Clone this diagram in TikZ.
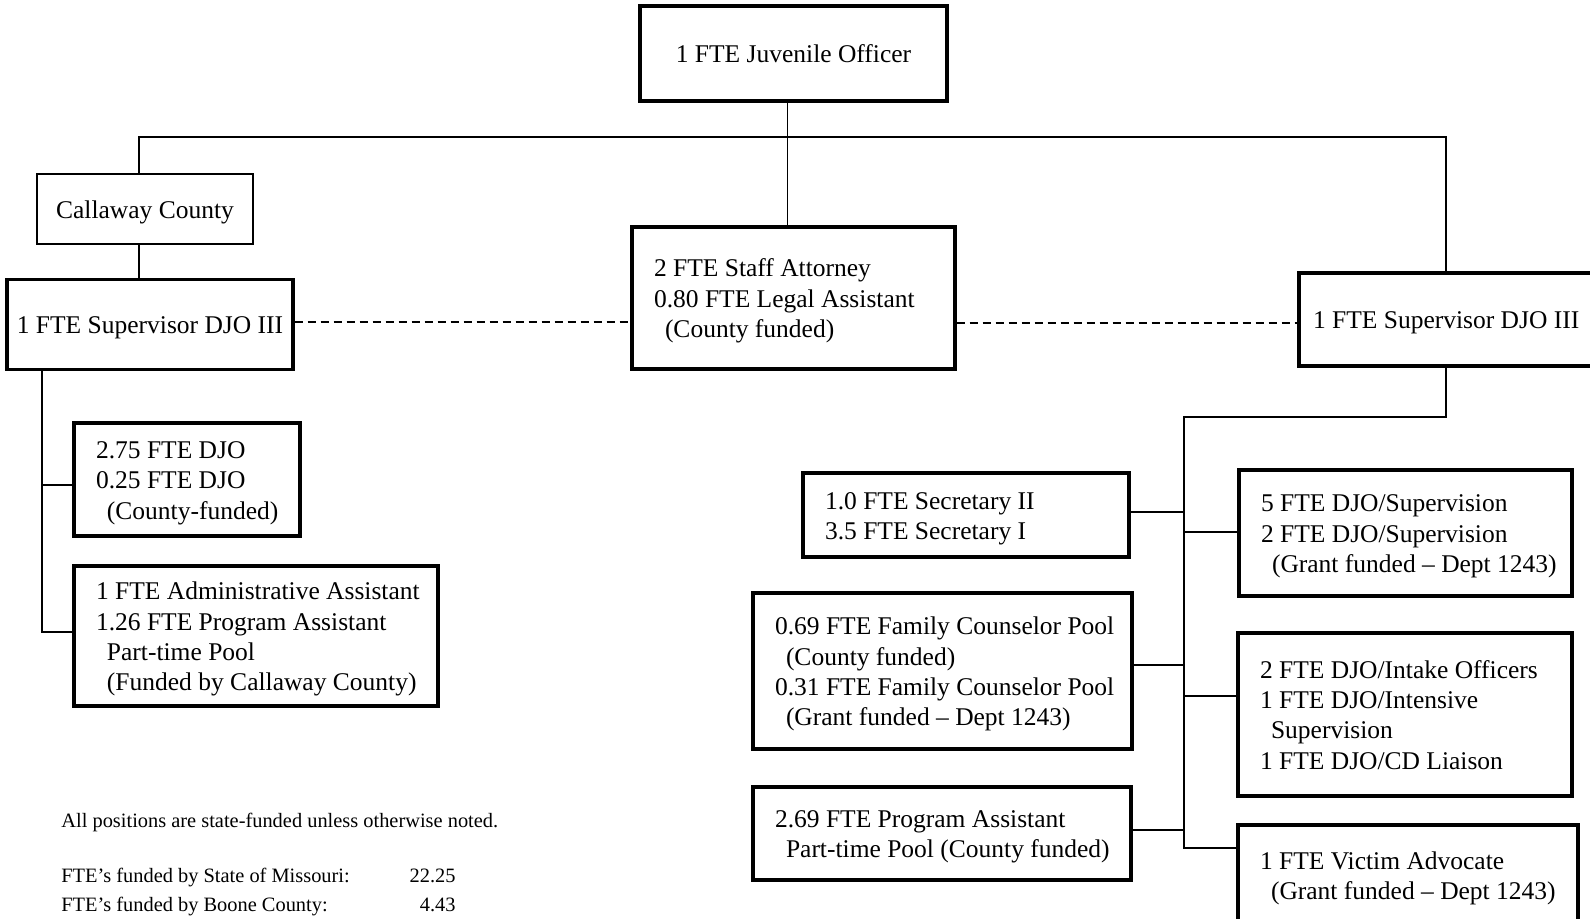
\documentclass[tikz,border=0pt]{standalone}
\usepackage{fontspec}
\setmainfont{Liberation Serif}

\newcommand{\boxlines}[1]{\spaceskip=0pt\xspaceskip=0pt%
    \raisebox{-1.6pt}[\height][\depth]{\begin{tabular}{@{}l@{}}#1\end{tabular}}}
\newcommand{\indnt}{\hspace*{5.5pt}}

\begin{document}
\begin{tikzpicture}[
    x=0.5pt, y=-0.5pt,
    font=\fontsize{12.75}{15.2}\selectfont,
    head/.style={draw, line width=1.6pt, align=center, inner sep=0pt},
    unit/.style={draw, line width=1.6pt, inner xsep=11pt, inner ysep=0pt},
    link/.style={line width=0.9pt},
    dashline/.style={line width=0.9pt, dash pattern=on 4pt off 2.5pt},
    note/.style={font=\fontsize{10.2}{15}\selectfont, inner sep=0pt}
]
\useasboundingbox (0,0) rectangle (1590,918);

    % Top level
    \node[head, minimum width=153.5pt, minimum height=47.5pt] (jo) at (793.5,53.5) {1 FTE Juvenile Officer};
    \node[head, line width=1pt, minimum width=108pt, minimum height=35pt] (cc) at (145,209) {\boxlines{Callaway County}};
    \node[head, minimum width=143pt, minimum height=45pt] (supL) at (150,324.5) {\boxlines{1 FTE Supervisor DJO III}};
    \node[unit, text width=139.5pt, minimum height=71pt] (sa) at (793.5,298)
        {\boxlines{2 FTE Staff Attorney\\0.80 FTE Legal Assistant\\\indnt(County funded)}};
    \node[unit, inner xsep=7pt, text width=136.5pt, minimum height=46.5pt] (supR) at (1449.5,319.5)
        {\boxlines{1 FTE Supervisor DJO III}};

    % Callaway side
    \node[unit, text width=91pt, minimum height=56.5pt] (djo) at (187,479.5)
        {\boxlines{2.75 FTE DJO\\0.25 FTE DJO\\\indnt(County-funded)}};
    \node[unit, text width=160pt, minimum height=70pt] (adm) at (256,636)
        {\boxlines{1 FTE Administrative Assistant\\1.26 FTE Program Assistant\\\indnt Part-time Pool\\\indnt(Funded by Callaway County)}};

    % Boone side, left column
    \node[unit, text width=141pt, minimum height=42pt] (sec) at (966,515)
        {\boxlines{1.0 FTE Secretary II\\3.5 FTE Secretary I}};
    \node[unit, text width=167.5pt, minimum height=78pt] (fam) at (942.5,671)
        {\boxlines{0.69 FTE Family Counselor Pool\\\indnt(County funded)\\0.31 FTE Family Counselor Pool\\\indnt(Grant funded – Dept 1243)}};
    \node[unit, text width=167pt, minimum height=46.5pt] (pa) at (942,833.5)
        {\boxlines{2.69 FTE Program Assistant\\\indnt Part-time Pool (County funded)}};

    % Boone side, right column
    \node[unit, text width=144.5pt, minimum height=63pt] (sup) at (1405.5,533)
        {\boxlines{5 FTE DJO/Supervision\\2 FTE DJO/Supervision\\\indnt(Grant funded – Dept 1243)}};
    \node[unit, text width=145pt, minimum height=81.5pt] (intake) at (1405,714.5)
        {\boxlines{2 FTE DJO/Intake Officers\\1 FTE DJO/Intensive\\\indnt Supervision\\1 FTE DJO/CD Liaison}};
    \node[unit, text width=148pt, minimum height=50pt] (vic) at (1408,875)
        {\boxlines{1 FTE Victim Advocate\\\indnt(Grant funded – Dept 1243)}};

    % Notes
    \node[note, anchor=base west] (allnote) at (61,827) {All positions are state-funded unless otherwise noted.};
    \node[note, anchor=base west] (stateLbl) at (61,882) {FTE’s funded by State of Missouri:};
    \node[note, anchor=base east] (stateVal) at (456,882) {22.25};
    \node[note, anchor=base west] (booneLbl) at (61,911) {FTE’s funded by Boone County:};
    \node[note, anchor=base east] (booneVal) at (456,911) {4.43};

    % Lines
    \coordinate (hL) at (139,137);
    \coordinate (hR) at (1446,137);
    \draw[link] ([xshift=-3pt]jo.south) -- ([xshift=-3pt]jo.south |- sa.north);
    \draw[link] (hL |- cc.north) -- (hL) -- (hR) -- (hR |- supR.north);
    \draw[link] (hL |- cc.south) -- (hL |- supL.north);
    \draw[dashline] (supL.east |- 0,322) -- (sa.west |- 0,322);
    \draw[dashline] (sa.east |- 0,323) -- (supR.west |- 0,323);

    \coordinate (lb) at (42,632);
    \draw[link] (lb |- supL.south) -- (lb) -- (lb -| adm.west);
    \draw[link] (lb |- 0,485) -- (djo.west |- 0,485);

    \coordinate (rt) at (1184,417);
    \coordinate (rb) at (1184,848);
    \draw[link] (hR |- supR.south) -- (hR |- rt) -- (rt) -- (rb) -- (rb -| vic.west);
    \foreach \y/\n in {512/sec, 665/fam, 830/pa}
        \draw[link] (rt |- 0,\y) -- (\n.east |- 0,\y);
    \foreach \y/\n in {532/sup, 696/intake}
        \draw[link] (rt |- 0,\y) -- (\n.west |- 0,\y);

\end{tikzpicture}
\end{document}
